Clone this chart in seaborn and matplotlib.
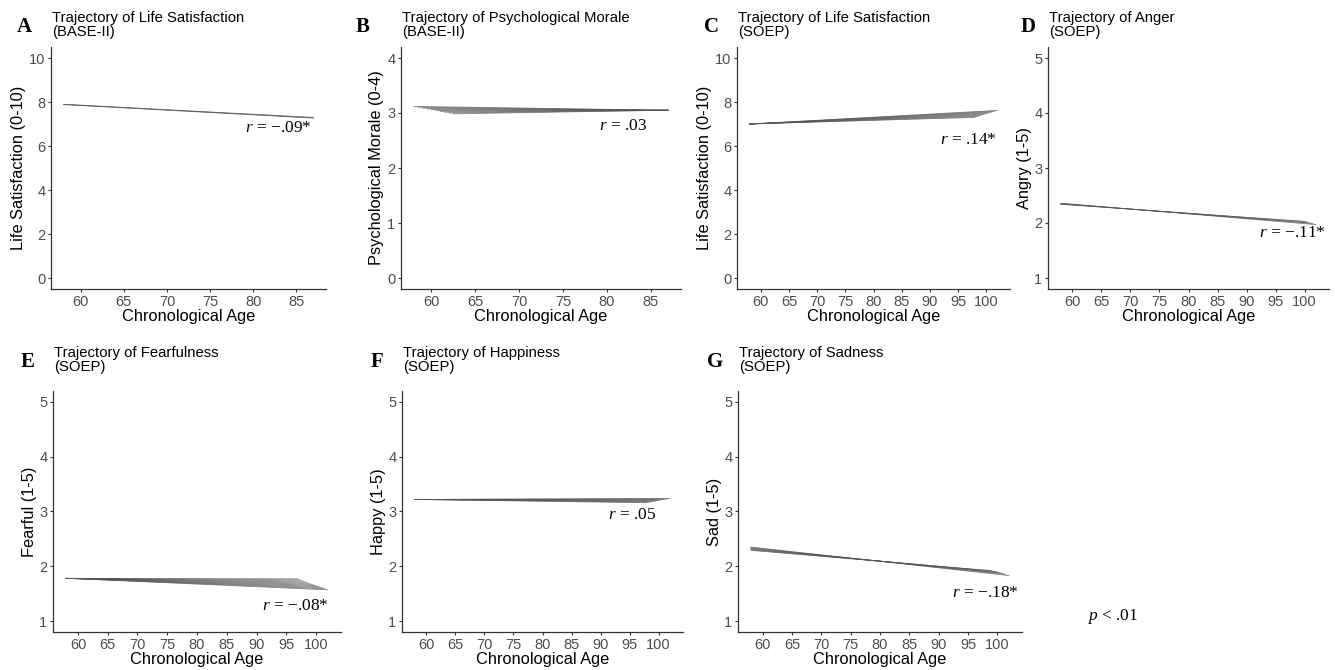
import numpy as np
import pandas as pd
import matplotlib
matplotlib.use("Agg")
import matplotlib.pyplot as plt
import seaborn as sns

# ---------------- data ----------------
# Panel A: Life Satisfaction (BASE-II)
A_start_age = [58, 58, 58]
A_start_val = [7.90, 7.89, 7.88]
A_end_age = [87, 87, 87]
A_end_val = [7.30, 7.28, 7.27]

# Panel B: Psychological Morale (BASE-II)
B_start_age = [58, 58.5, 59, 59.5, 60, 60.5, 61, 61.5, 62, 62.5]
B_start_val = [3.12, 3.105, 3.09, 3.075, 3.06, 3.045, 3.03, 3.015, 3.0, 2.985]
B_end_age = [87, 87, 87, 87, 87, 87, 87, 87, 87, 87]
B_end_val = [3.05, 3.05, 3.05, 3.05, 3.05, 3.05, 3.05, 3.05, 3.05, 3.05]

# Panel C: Life Satisfaction (SOEP)
C_start_age = [58, 58, 58, 58, 58, 58, 58, 58, 58]
C_start_val = [7.0, 7.0, 7.0, 7.0, 7.0, 7.0, 7.0, 7.0, 7.0]
C_end_age = [98, 98.5, 99, 99.5, 100, 100.5, 101, 101.5, 102]
C_end_val = [7.30, 7.34, 7.38, 7.42, 7.46, 7.50, 7.54, 7.58, 7.62]

# Panel D: Angry (SOEP)
D_start_age = [58, 58, 58, 58, 58]
D_start_val = [2.36, 2.355, 2.35, 2.345, 2.34]
D_end_age = [102, 101.5, 101, 100.5, 100]
D_end_val = [1.97, 1.99, 2.00, 2.02, 2.03]

# Panel E: Fearful (SOEP)
E_start_age = [58, 58, 58, 58, 58, 58, 58, 58, 58, 58, 58]
E_start_val = [1.78, 1.78, 1.78, 1.78, 1.78, 1.78, 1.78, 1.78, 1.78, 1.78, 1.78]
E_end_age = [97, 97.5, 98, 98.5, 99, 99.5, 100, 100.5, 101, 101.5, 102]
E_end_val = [1.77, 1.75, 1.73, 1.71, 1.69, 1.67, 1.65, 1.63, 1.61, 1.59, 1.57]

# Panel F: Happy (SOEP)
F_start_age = [58, 58, 58, 58, 58, 58, 58, 58, 58]
F_start_val = [3.22, 3.22, 3.22, 3.22, 3.22, 3.22, 3.22, 3.22, 3.22]
F_end_age = [102, 101.5, 101, 100.5, 100, 99.5, 99, 98.5, 98]
F_end_val = [3.24, 3.23, 3.22, 3.21, 3.20, 3.19, 3.18, 3.17, 3.16]

# Panel G: Sad (SOEP)
G_start_age = [58, 58, 58, 58, 58, 58, 58]
G_start_val = [2.35, 2.34, 2.33, 2.32, 2.31, 2.30, 2.29]
G_end_age = [102, 101.5, 101, 100.5, 100, 99.5, 99]
G_end_val = [1.83, 1.85, 1.87, 1.88, 1.90, 1.91, 1.92]

letters = ["A", "B", "C", "D", "E", "F", "G"]
titles = ["Trajectory of Life Satisfaction", "Trajectory of Psychological Morale",
          "Trajectory of Life Satisfaction", "Trajectory of Anger",
          "Trajectory of Fearfulness", "Trajectory of Happiness", "Trajectory of Sadness"]
subtitles = ["(BASE-II)", "(BASE-II)", "(SOEP)", "(SOEP)", "(SOEP)", "(SOEP)", "(SOEP)"]
ylabels = ["Life Satisfaction (0-10)", "Psychological Morale (0-4)", "Life Satisfaction (0-10)",
           "Angry (1-5)", "Fearful (1-5)", "Happy (1-5)", "Sad (1-5)"]
r_texts = ["\u2212.09*", ".03", ".14*", "\u2212.11*", "\u2212.08*", ".05", "\u2212.18*"]
r_ages = [82.9, 81.9, 96.8, 97.8, 96.5, 95.5, 98.0]
r_vals = [6.82, 2.77, 6.25, 1.82, 1.27, 2.93, 1.51]
xlabel = "Chronological Age"
p_note = "< .01"

series = {
    "A": (A_start_age, A_start_val, A_end_age, A_end_val),
    "B": (B_start_age, B_start_val, B_end_age, B_end_val),
    "C": (C_start_age, C_start_val, C_end_age, C_end_val),
    "D": (D_start_age, D_start_val, D_end_age, D_end_val),
    "E": (E_start_age, E_start_val, E_end_age, E_end_val),
    "F": (F_start_age, F_start_val, F_end_age, F_end_val),
    "G": (G_start_age, G_start_val, G_end_age, G_end_val),
}

# ---------------- style ----------------
sns.set_theme(style="ticks")
plt.rcParams["font.family"] = ["Liberation Sans", "DejaVu Sans"]
plt.rcParams["mathtext.fontset"] = "custom"
plt.rcParams["mathtext.it"] = "Liberation Serif:italic"
plt.rcParams["mathtext.rm"] = "Liberation Serif"

W, H = 1335, 670
fig = plt.figure(figsize=(W / 100, H / 100), dpi=100)

# axes pixel boxes: (left, right, top, bottom)
boxes = {
    "A": (51, 326, 47, 289), "B": (401, 681, 47, 289),
    "C": (737, 1010, 47, 289), "D": (1048, 1329, 47, 289),
    "E": (53, 341, 391, 632), "F": (402, 683, 391, 632),
    "G": (738, 1022, 391, 632),
}
letter_x = {"A": 17, "B": 356, "C": 704, "D": 1021, "E": 21, "F": 371, "G": 707}

for i, key in enumerate(letters):
    l, r, t, b = boxes[key]
    ax = fig.add_axes([l / W, 1 - b / H, (r - l) / W, (b - t) / H])
    sa, sv, ea, ev = series[key]
    rows = []
    for k in range(len(sa)):
        rows.append({"line": k, "age": sa[k], "val": sv[k]})
        rows.append({"line": k, "age": ea[k], "val": ev[k]})
    df = pd.DataFrame(rows)
    sns.lineplot(data=df, x="age", y="val", units="line", estimator=None,
                 color="#555555", lw=0.55, alpha=0.8, ax=ax, legend=False, sort=False)

    if key in ("A", "B"):
        ax.set_xlim(56.55, 88.45)
        ax.set_xticks([60, 65, 70, 75, 80, 85])
    else:
        ax.set_xlim(55.8, 104.2)
        ax.set_xticks([60, 65, 70, 75, 80, 85, 90, 95, 100])
    if key in ("A", "C"):
        ax.set_ylim(-0.5, 10.5)
        ax.set_yticks([0, 2, 4, 6, 8, 10])
    elif key == "B":
        ax.set_ylim(-0.2, 4.2)
        ax.set_yticks([0, 1, 2, 3, 4])
    else:
        ax.set_ylim(0.8, 5.2)
        ax.set_yticks([1, 2, 3, 4, 5])

    sns.despine(ax=ax)
    for s in ("left", "bottom"):
        ax.spines[s].set_color("#333333")
        ax.spines[s].set_linewidth(0.9)
    ax.tick_params(axis="both", labelsize=10.5, labelcolor="#4d4d4d", color="#333333",
                   length=2.5, width=0.8, pad=1.5)
    ax.set_xlabel(xlabel, fontsize=11.8, color="black", labelpad=0)
    ax.set_ylabel(ylabels[i], fontsize=11.8, color="black", labelpad=2)

    ax.text(r_ages[i], r_vals[i], r"$r$ = " + r_texts[i], ha="center", va="center",
            fontsize=12.5, family="Liberation Serif", color="black")

    # titles and panel letters
    ttop = 11 if t < 100 else 346
    fig.text((l + 1) / W, 1 - ttop / H, titles[i] + "\n" + subtitles[i], ha="left", va="top",
             fontsize=10.7, color="black", linespacing=1.0)
    fig.text(letter_x[key] / W, 1 - (ttop + 21) / H, key, ha="left", va="baseline",
             fontsize=15, fontweight="bold", family="Liberation Serif", color="black")

fig.text(1112 / W, 1 - 616 / H, r"$p$ " + p_note, ha="center", va="center",
         fontsize=12.5, family="Liberation Serif", color="black")

fig.savefig("out.png", dpi=100)
